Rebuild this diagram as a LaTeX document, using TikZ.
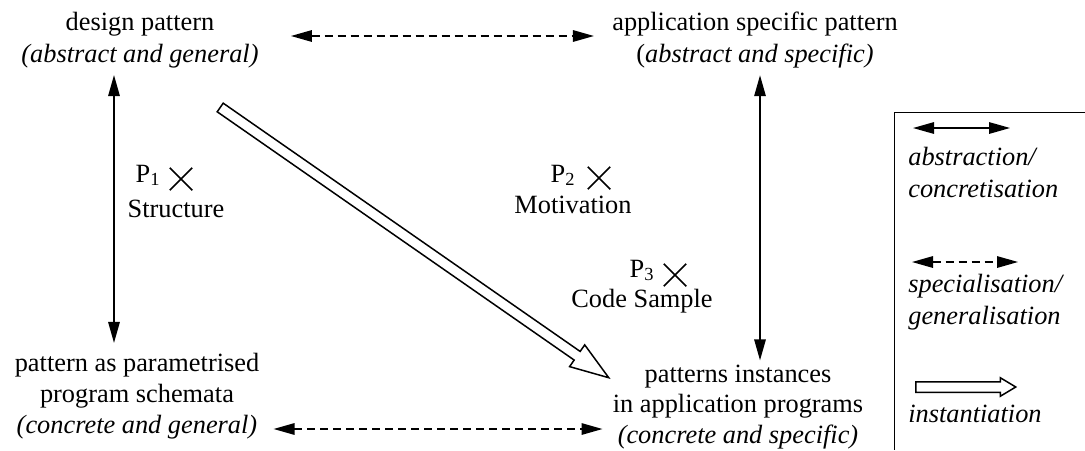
\documentclass[tikz,border=0pt]{standalone}
\usepackage{fontspec}
\setmainfont{Liberation Serif}
\usetikzlibrary{positioning,arrows.meta,calc,shapes.arrows,shapes.misc}
\tikzset{
  lbl/.style={align=center,inner sep=0pt,font=\fontsize{15}{17.5}\selectfont},
  keylbl/.style={align=left,inner sep=0pt,anchor=north west,font=\fontsize{15}{18}\selectfont\itshape},
  absarrow/.style={line width=0.03cm,{Triangle[length=0.42cm,width=0.23cm]}-{Triangle[length=0.42cm,width=0.23cm]}},
  specarrow/.style={absarrow,dash pattern=on 0.16cm off 0.1cm},
  instarrow/.style={single arrow,draw,line width=0.03cm,inner xsep=0pt,inner ysep=0.09cm,fill=white,
    single arrow head extend=0.16cm,single arrow tip angle=38},
  keyinst/.style={single arrow,draw,line width=0.03cm,inner xsep=0pt,inner ysep=0.09cm,
    single arrow head extend=0.08cm,single arrow tip angle=62,minimum height=2cm},
  marker/.style={cross out,draw,line width=0.03cm,minimum size=0.42cm,inner sep=0pt}
}
\begin{document}
\begin{tikzpicture}[x=0.02cm,y=-0.02cm]
  \useasboundingbox (0,0) rectangle (1085,450);

  \node[lbl,font=\fontsize{15}{18}\selectfont] (dp) at (140,40) {design pattern\\\textit{(abstract and general)}};
  \node[lbl,font=\fontsize{15}{18}\selectfont] (asp) at (755,40) {application specific pattern\\(\textit{abstract and specific)}};
  \node[lbl] (pps) at (137,396) {pattern as parametrised\\program schemata\\\textit{(concrete and general)}};
  \node[lbl] (pi) at (738,407) {patterns instances\\in application programs\\\textit{(concrete and specific)}};

  \draw[specarrow] ($(dp.east)+(32,-4)$) -- ($(asp.west)+(-18,-4)$);
  \draw[specarrow] ($(pps.east)+(14,33)$) -- ($(pi.west)+(-10,22)$);
  \draw[absarrow] ($(dp.south)+(-26,7)$) -- ($(pps.north)+(-23,-10)$);
  \draw[absarrow] ($(asp.south)+(5,7)$) -- ($(pi.north)+(22,-4)$);

  \coordinate (insttail) at ($(dp.south east)+(-45,35)$);
  \coordinate (insttip) at ($(pi.north west)+(-10,9)$);
  \path let \p1=($(insttip)-(insttail)$), \n1={veclen(\x1,\y1)}, \n2={atan2(\y1,\x1)} in
    node[instarrow,minimum height=\n1,rotate=\n2] (inst) at ($(insttail)!0.5!(insttip)$) {};

  \node[marker] (m1) at (181,179) {};
  \node[lbl,anchor=base east] (p1) at ($(m1.west)+(-9,3)$) {P\textsubscript{1}};
  \node[lbl,anchor=base] (s1) at ($(m1)+(-5,38)$) {Structure};
  \node[marker] (m2) at (599,178) {};
  \node[lbl,anchor=base east] (p2) at ($(m2.west)+(-12,4)$) {P\textsubscript{2}};
  \node[lbl,anchor=base] (s2) at ($(m2)+(-26,35)$) {Motivation};
  \node[marker] (m3) at (675,275) {};
  \node[lbl,anchor=base east] (p3) at ($(m3.west)+(-9,2)$) {P\textsubscript{3}};
  \node[lbl,anchor=base] (s3) at ($(m3)+(-33,32)$) {Code Sample};

  \draw[line width=0.02cm] (1085,112) -- (894,112) -- (894,450);
  \coordinate (ka1) at (913,128);
  \coordinate (ka2) at (1010,128);
  \draw[absarrow] (ka1) -- (ka2);
  \node[keylbl] (kabs) at (908,147) {abstraction/\\concretisation};
  \coordinate (ks1) at (912,262);
  \coordinate (ks2) at (1018,262);
  \draw[specarrow] (ks1) -- (ks2);
  \node[keylbl] (kspec) at (908,274) {specialisation/\\generalisation};
  \node[keyinst,anchor=west] (kinst) at (915,387) {};
  \node[keylbl] (kinstl) at (908,405) {instantiation};
\end{tikzpicture}
\end{document}
